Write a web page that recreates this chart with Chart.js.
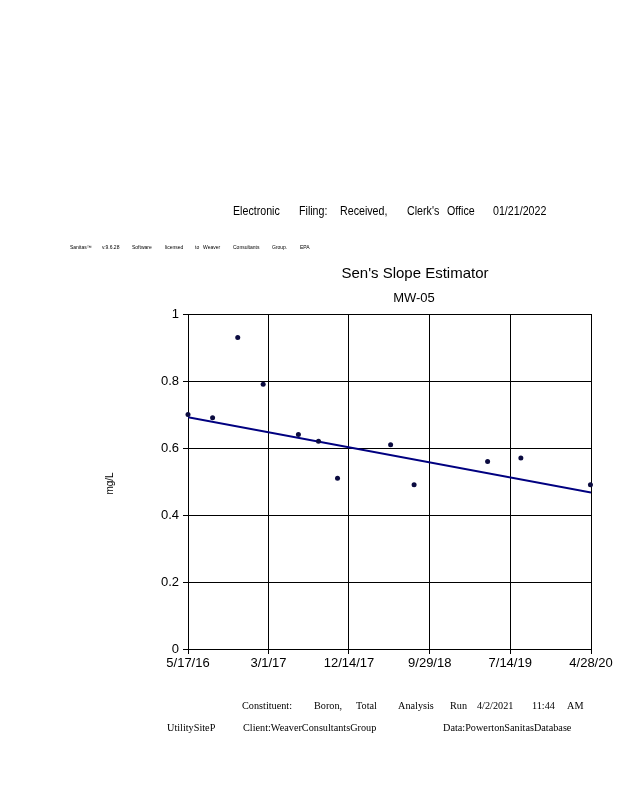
<!DOCTYPE html>
<html>
<head>
<meta charset="utf-8">
<script src="https://cdn.jsdelivr.net/npm/chart.js@4"></script>
<style>
  html, body { margin: 0; padding: 0; background: #fff; }
  #wrap { position: relative; width: 618px; height: 800px; overflow: hidden; }
  #chart { position: absolute; left: 0; top: 0; }
  .t { position: absolute; white-space: nowrap; color: #000; line-height: 1; }
  .hdr { font-family: "Liberation Sans", Arial, sans-serif; font-size: 13px; transform: scaleX(0.82); transform-origin: left center; }
  .tiny { font-family: "Liberation Sans", Arial, sans-serif; font-size: 5px; }
  .ftr { font-family: "Liberation Serif", "Times New Roman", serif; font-size: 11px; transform: scaleX(0.93); transform-origin: left center; }
  .ttl { font-family: "Liberation Sans", Arial, sans-serif; transform: translateX(-50%); }
</style>
</head>
<body>
<div id="wrap">
  <canvas id="chart" width="618" height="800"></canvas>

  <span class="t hdr" style="left:233px;top:204px">Electronic</span>
  <span class="t hdr" style="left:299px;top:204px">Filing:</span>
  <span class="t hdr" style="left:340px;top:204px">Received,</span>
  <span class="t hdr" style="left:407px;top:204px">Clerk's</span>
  <span class="t hdr" style="left:447px;top:204px">Office</span>
  <span class="t hdr" style="left:493px;top:204px">01/21/2022</span>

  <span class="t tiny" style="left:70px;top:245px">Sanitas™</span>
  <span class="t tiny" style="left:102px;top:245px">v.9.6.28</span>
  <span class="t tiny" style="left:132px;top:245px">Software</span>
  <span class="t tiny" style="left:165px;top:245px">licensed</span>
  <span class="t tiny" style="left:195px;top:245px">to</span>
  <span class="t tiny" style="left:203px;top:245px">Weaver</span>
  <span class="t tiny" style="left:233px;top:245px">Consultants</span>
  <span class="t tiny" style="left:272px;top:245px">Group.</span>
  <span class="t tiny" style="left:300px;top:245px">EPA</span>

  <span class="t ttl" style="left:415px;top:265px;font-size:15px">Sen's Slope Estimator</span>
  <span class="t ttl" style="left:414px;top:291px;font-size:13px">MW-05</span>

  <span class="t ftr" style="left:242px;top:700px">Constituent:</span>
  <span class="t ftr" style="left:314px;top:700px">Boron,</span>
  <span class="t ftr" style="left:356px;top:700px">Total</span>
  <span class="t ftr" style="left:398px;top:700px">Analysis</span>
  <span class="t ftr" style="left:450px;top:700px">Run</span>
  <span class="t ftr" style="left:477px;top:700px">4/2/2021</span>
  <span class="t ftr" style="left:532px;top:700px">11:44</span>
  <span class="t ftr" style="left:567px;top:700px">AM</span>

  <span class="t ftr" style="left:167px;top:722px">UtilitySiteP</span>
  <span class="t ftr" style="left:243px;top:722px">Client:WeaverConsultantsGroup</span>
  <span class="t ftr" style="left:443px;top:722px">Data:PowertonSanitasDatabase</span>
</div>

<script>
// sample dates and boron results (mg/L) for MW-05
const sampleDates = ['2016-05-17', '2016-08-13', '2016-11-11', '2017-02-10', '2017-06-16', '2017-08-27',
    '2017-11-03', '2018-05-12', '2018-08-04', '2019-04-24', '2019-08-21', '2020-04-26'];
const boronValues = [0.70, 0.69, 0.93, 0.79, 0.64, 0.62, 0.51, 0.61, 0.49, 0.56, 0.57, 0.49];

// Sen's slope line, read at the two ends of the x range
const trendDates = ['2016-05-17', '2020-04-28'];
const trendValues = [0.692, 0.467];

const xTickLabels = ['5/17/16', '3/1/17', '12/14/17', '9/29/18', '7/14/19', '4/28/20'];
const yTickValues = [0, 0.2, 0.4, 0.6, 0.8, 1];

const start = Date.UTC(2016, 4, 17);
const DAY = 86400000;

function isoToDay(s) {
    const p = s.split('-').map(Number);
    return (Date.UTC(p[0], p[1] - 1, p[2]) - start) / DAY;
}
function labelToDay(s) {
    const p = s.split('/').map(Number);
    return (Date.UTC(2000 + p[2], p[0] - 1, p[1]) - start) / DAY;
}

const xTickDays = xTickLabels.map(labelToDay);
const tickFont = { family: '"Liberation Sans", Arial, sans-serif', size: 13 };

new Chart(document.getElementById('chart'), {
    type: 'scatter',
    data: {
        datasets: [{
            label: 'Boron',
            data: sampleDates.map((d, i) => ({ x: isoToDay(d), y: boronValues[i] })),
            backgroundColor: '#0b0b40',
            borderWidth: 0,
            pointRadius: 2.5,
            clip: false
        }, {
            type: 'line',
            label: "Sen's slope",
            data: trendDates.map((d, i) => ({ x: isoToDay(d), y: trendValues[i] })),
            borderColor: '#000080',
            borderWidth: 2,
            pointRadius: 0,
            fill: false
        }]
    },
    options: {
        responsive: false,
        animation: false,
        layout: { padding: { left: 148, right: 27, top: 314, bottom: 121 } },
        plugins: { legend: { display: false }, tooltip: { enabled: false } },
        scales: {
            x: {
                type: 'linear',
                min: xTickDays[0],
                max: xTickDays[xTickDays.length - 1],
                afterBuildTicks: s => { s.ticks = xTickDays.map(v => ({ value: v })); },
                afterFit: s => { s.height = 30; },
                grid: { color: '#000', lineWidth: 1, tickLength: 5, tickColor: '#000' },
                border: { color: '#000', width: 1 },
                ticks: {
                    color: '#000',
                    font: tickFont,
                    padding: 2,
                    maxRotation: 0,
                    autoSkip: false,
                    callback: (v, i) => xTickLabels[i]
                }
            },
            y: {
                min: 0,
                max: 1,
                afterBuildTicks: s => { s.ticks = yTickValues.map(v => ({ value: v })); },
                afterFit: s => { s.width = 40; },
                grid: { color: '#000', lineWidth: 1, tickLength: 5, tickColor: '#000' },
                border: { color: '#000', width: 1 },
                title: {
                    display: true,
                    text: 'mg/L',
                    color: '#000',
                    font: { family: '"Liberation Sans", Arial, sans-serif', size: 10 },
                    padding: 0
                },
                ticks: {
                    color: '#000',
                    font: tickFont,
                    padding: 4,
                    callback: v => String(Math.round(v * 10) / 10)
                }
            }
        }
    },
    plugins: [{
        // the y title sits far left of the tick labels in the reference
        id: 'moveYTitle',
        afterLayout(chart) {
            const y = chart.scales.y;
            y.options.title.display = false;
        },
        afterDraw(chart) {
            const c = chart.ctx;
            const a = chart.chartArea;
            c.save();
            c.translate(110, (a.top + a.bottom) / 2 + 2);
            c.rotate(-Math.PI / 2);
            c.font = '10px "Liberation Sans", Arial, sans-serif';
            c.fillStyle = '#000';
            c.textAlign = 'center';
            c.textBaseline = 'middle';
            c.fillText('mg/L', 0, 0);
            c.restore();
        }
    }]
});
</script>
</body>
</html>
